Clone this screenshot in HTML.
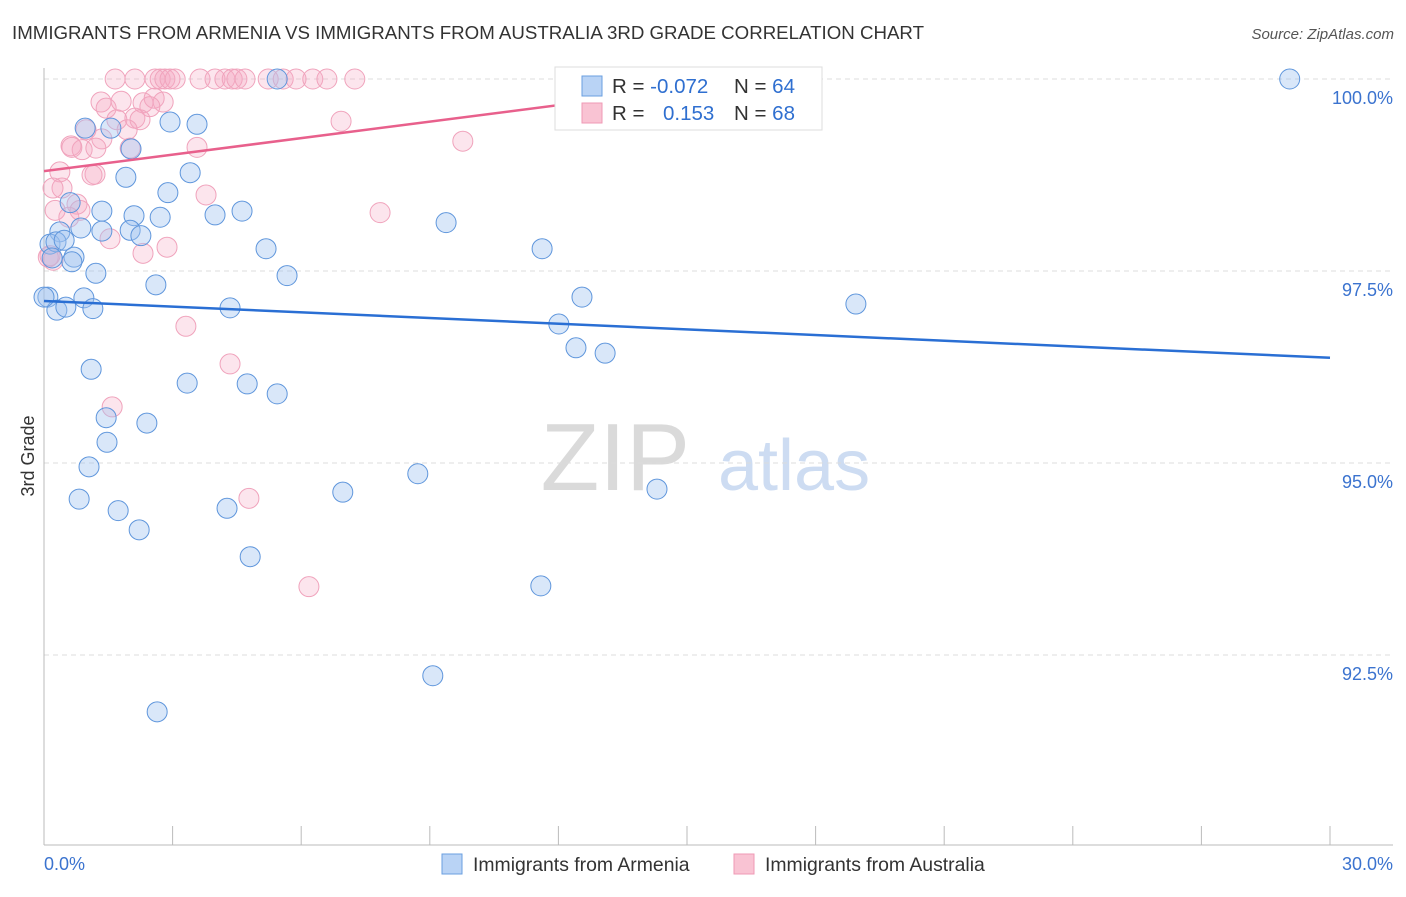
<!DOCTYPE html>
<html><head><meta charset="utf-8"><style>
body{margin:0;background:#fff;font-family:"Liberation Sans",sans-serif;}
svg text{font-family:"Liberation Sans",sans-serif;}
</style></head><body>
<svg id="chart" width="1406" height="892" xmlns="http://www.w3.org/2000/svg">
<text x="12" y="39" font-size="18.7" fill="#333">IMMIGRANTS FROM ARMENIA VS IMMIGRANTS FROM AUSTRALIA 3RD GRADE CORRELATION CHART</text>
<text x="1394" y="39" font-size="15" fill="#555" font-style="italic" text-anchor="end">Source: ZipAtlas.com</text>
<text x="34" y="456" font-size="18" fill="#333" text-anchor="middle" transform="rotate(-90 34 456)">3rd Grade</text>
<g>
<text x="690" y="490" font-size="96" fill="#dadada" font-family="Liberation Serif" text-anchor="end">ZIP</text>
<text x="718" y="490" font-size="72" fill="#cddcf2">atlas</text>
</g>
<g id="grid"></g><g id="axes"></g><g id="pts"></g><g id="lines"></g>
<g>
<rect x="555" y="67" width="267" height="63" fill="#fff" stroke="#ddd"/>
<rect x="582" y="76" width="20" height="20" fill="#b9d3f5" stroke="#6a9fe0"/>
<rect x="582" y="103" width="20" height="20" fill="#f9c3d3" stroke="#ef9ab5"/>
<text x="612" y="93" font-size="20.5" fill="#333">R = <tspan fill="#2f6fd0">-0.072</tspan></text>
<text x="734" y="93" font-size="20.5" fill="#333">N = <tspan fill="#2f6fd0">64</tspan></text>
<text x="612" y="120" font-size="20.5" fill="#333">R = </text>
<text x="663" y="120" font-size="20.5" fill="#2f6fd0">0.153</text>
<text x="734" y="120" font-size="20.5" fill="#333">N = <tspan fill="#2f6fd0">68</tspan></text>
</g>
<g>
<rect x="442" y="854" width="20" height="20" fill="#b9d3f5" stroke="#6a9fe0"/>
<text x="473" y="871" font-size="19.4" fill="#333">Immigrants from Armenia</text>
<rect x="734" y="854" width="20" height="20" fill="#f9c3d3" stroke="#ef9ab5"/>
<text x="765" y="871" font-size="19.4" fill="#333">Immigrants from Australia</text>
</g>
</svg>
<script>
const yTicks=[100,97.5,95,92.5];
const yTickLabels=["100.0%","97.5%","95.0%","92.5%"];
const xTicks=[0,3,6,9,12,15,18,21,24,27,30];
const blueX=[29.06,5.44,0.96,2.94,3.57,1.56,2.03,1.91,3.41,2.89,0.61,1.35,2.10,2.71,3.99,4.62,9.38,0.86,2.01,2.26,1.35,0.37,0.14,0.28,0.47,0.19,0.70,0.65,5.18,11.62,1.21,5.67,2.61,0.09,0.93,12.55,18.94,0.30,0.51,1.14,4.34,12.01,12.41,13.09,1.10,3.34,4.74,5.44,1.45,2.40,1.47,1.05,8.72,0.82,6.97,14.30,1.73,4.27,2.22,4.81,11.59,9.07,2.64,0.0];
const blueY=[100,100,99.36,99.44,99.41,99.36,99.09,98.72,98.78,98.52,98.39,98.28,98.22,98.20,98.23,98.28,98.13,98.06,98.03,97.96,98.02,98.01,97.85,97.88,97.90,97.67,97.68,97.62,97.79,97.79,97.47,97.44,97.32,97.16,97.15,97.16,97.07,96.99,97.03,97.01,97.02,96.81,96.50,96.43,96.22,96.04,96.03,95.90,95.59,95.52,95.27,94.95,94.86,94.53,94.62,94.66,94.38,94.41,94.13,93.78,93.40,92.23,91.76,97.16];
const pinkX=[1.66,2.12,2.59,2.71,2.82,2.94,3.06,3.64,3.99,4.22,4.39,4.50,4.69,5.23,5.58,5.88,6.27,6.60,7.25,12.27,14.37,1.33,1.45,1.80,2.31,2.57,2.78,2.47,2.12,1.70,2.24,1.94,0.98,1.35,0.63,0.89,1.21,2.01,3.57,9.77,6.93,0.37,1.19,0.42,0.21,3.78,0.26,0.77,0.84,7.84,0.58,1.54,2.87,2.31,0.14,0.21,3.31,4.34,1.59,4.78,6.18,0.65,1.12,0.1];
const pinkY=[100,100,100,100,100,100,100,100,100,100,100,100,100,100,100,100,100,100,100,100,100,99.70,99.62,99.71,99.69,99.75,99.70,99.64,99.49,99.47,99.47,99.34,99.34,99.22,99.13,99.08,99.10,99.10,99.11,99.19,99.45,98.79,98.76,98.58,98.58,98.49,98.29,98.37,98.29,98.26,98.20,97.92,97.81,97.73,97.70,97.64,96.78,96.29,95.73,94.54,93.39,99.11,98.75,97.68];
const blueTrend=[97.11,96.37];
const pinkTrend=[98.80,99.88];
const pinkTrendEnd=15.07;
const NS="http://www.w3.org/2000/svg";
const sx=v=>44+v*(1286/30);
const sy=v=>79+(100-v)*76.8;
function mk(tag,attrs,parent){const e=document.createElementNS(NS,tag);for(const k in attrs)e.setAttribute(k,attrs[k]);document.getElementById(parent).appendChild(e);return e;}
yTicks.forEach((t,i)=>{
 const l=mk('line',{x1:44,x2:1393,y1:sy(t),y2:sy(t),stroke:'#dcdcdc','stroke-dasharray':'5,4'},'grid');
 
 
 const tx=mk('text',{x:1393,y:sy(t)+25,'font-size':18,fill:'#3b73cf','text-anchor':'end'},'grid');
 tx.textContent=yTickLabels[i];
 
 
});
const ya=mk('line',{x1:44,x2:44,y1:68,y2:845,stroke:'#bbb'},'axes');


const xa=mk('line',{x1:44,x2:1393,y1:845,y2:845,stroke:'#bbb'},'axes');


xTicks.forEach(t=>{
 const l=mk('line',{x1:sx(t),x2:sx(t),y1:826,y2:845,stroke:'#bbb'},'axes');
 
 
});
const xl0=mk('text',{x:44,y:870,'font-size':18,fill:'#3b73cf'},'axes');xl0.textContent='0.0%';


const xl1=mk('text',{x:1393,y:870,'font-size':18,fill:'#3b73cf','text-anchor':'end'},'axes');xl1.textContent='30.0%';


pinkX.forEach((x,i)=>{
 const c=mk('circle',{cx:sx(x),cy:sy(pinkY[i]),r:10,fill:'rgba(246,170,196,0.3)',stroke:'#f0a3bc','stroke-width':1},'pts');
 
 
});
blueX.forEach((x,i)=>{
 const c=mk('circle',{cx:sx(x),cy:sy(blueY[i]),r:10,fill:'rgba(160,196,240,0.4)',stroke:'#5f96dc','stroke-width':1},'pts');
 
 
});
const bl=mk('line',{x1:sx(0),y1:sy(blueTrend[0]),x2:sx(30),y2:sy(blueTrend[1]),stroke:'#2a6fd4','stroke-width':2.5},'lines');


const pl=mk('line',{x1:sx(0),y1:sy(pinkTrend[0]),x2:sx(pinkTrendEnd),y2:sy(pinkTrend[1]),stroke:'#e8608c','stroke-width':2.5},'lines');


</script>
</body></html>
